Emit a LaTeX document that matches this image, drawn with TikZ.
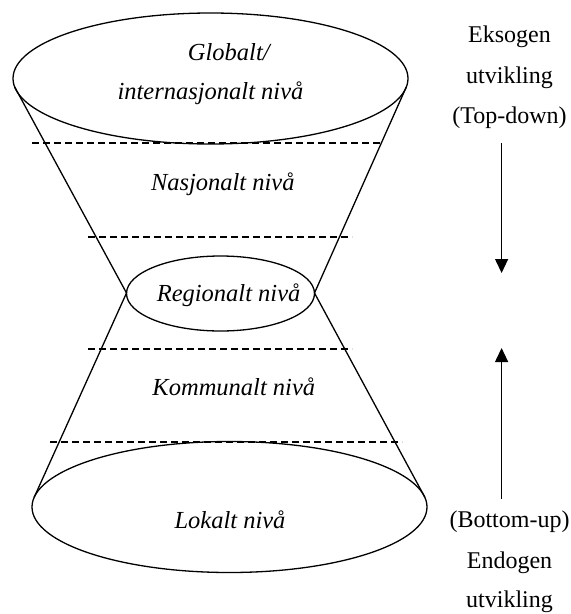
\documentclass[tikz,border=0pt]{standalone}
\usepackage{fontspec}
\setmainfont{Liberation Serif}
\usetikzlibrary{arrows.meta}

\begin{document}
\begin{tikzpicture}[x=1pt,y=-1pt,line width=1.3pt,
  lvl/.style={anchor=base,font=\fontsize{24.5}{28}\selectfont\itshape},
  side/.style={anchor=base,font=\fontsize{24}{28}\selectfont},
  cut/.style={dash pattern=on 7pt off 4pt},
  tip/.style={-{Triangle[length=14pt,width=13pt]}}]
\useasboundingbox (0,0) rectangle (571,614);

\draw (210.5,78.5) ellipse (197.5 and 65.5);
\draw (220.5,293.5) ellipse (94 and 37.5);
\draw (229.5,507) ellipse (197.5 and 65.5);

\draw (14.7,87) -- (126.5,293) -- (34.3,497);
\draw (406.3,87) -- (314.5,293) -- (424.7,497);

\draw[cut] (32,143) -- (383,143);
\draw[cut] (88,237) -- (352,237);
\draw[cut] (88,349) -- (352,349);
\draw[cut] (50,442) -- (402,442);

\node[lvl] (glob) at (228.8,60) {Globalt/};
\node[lvl] (inter) at (210.5,99.3) {internasjonalt nivå};
\node[lvl] (nasj) at (222.8,190) {Nasjonalt nivå};
\node[lvl] (reg) at (228.6,301.7) {Regionalt nivå};
\node[lvl] (komm) at (233.8,395.7) {Kommunalt nivå};
\node[lvl] (lok) at (230,528.3) {Lokalt nivå};

\node[side] (ekso) at (509.5,42.7) {Eksogen};
\node[side] (utv1) at (509.5,83.5) {utvikling};
\node[side] (top) at (509.5,123.5) {(Top-down)};
\node[side] (bot) at (509.5,527.7) {(Bottom-up)};
\node[side] (endo) at (509.5,568) {Endogen};
\node[side] (utv2) at (509.5,607) {utvikling};

\coordinate (ned1) at (501.6,143);
\coordinate (ned2) at (501.6,273);
\coordinate (opp1) at (501.6,499);
\coordinate (opp2) at (501.6,348);
\draw[tip] (ned1) -- (ned2);
\draw[tip] (opp1) -- (opp2);
\end{tikzpicture}
\end{document}
